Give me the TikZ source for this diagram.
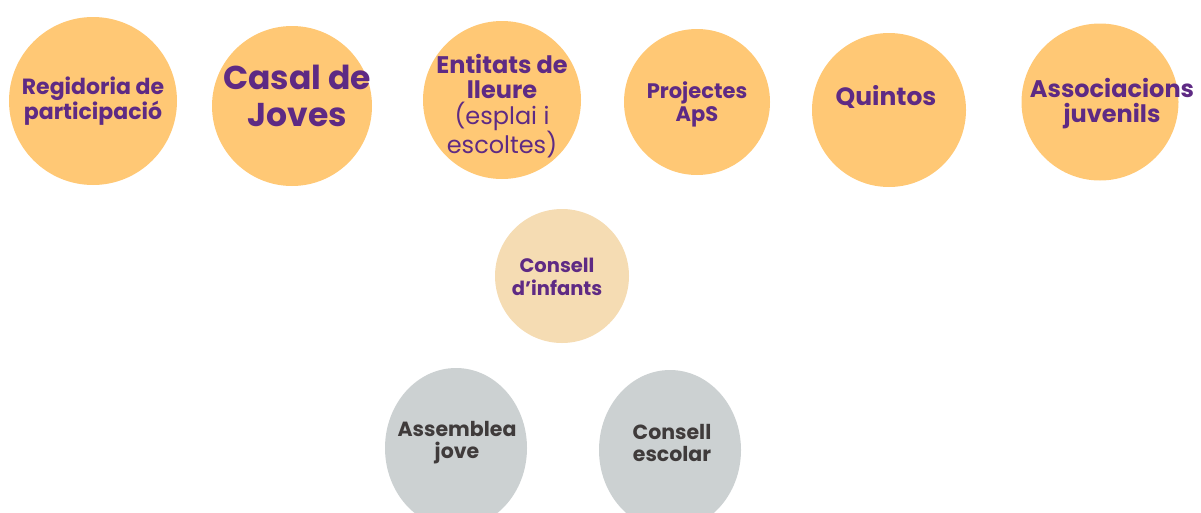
\documentclass[tikz,border=0pt]{standalone}
\usepackage{fontspec}
\setmainfont{Poppins}
\usepackage{tikz}
\usetikzlibrary{shapes.geometric}
\definecolor{peach}{HTML}{FFC875}
\definecolor{peachlight}{HTML}{F5DCB3}
\definecolor{stone}{HTML}{CCD1D2}
\definecolor{plum}{HTML}{5E2A84}
\definecolor{ink}{HTML}{3F3B3B}

\begin{document}
\begin{tikzpicture}[x=1pt, y=-1pt,
  blob/.style={circle, fill=peach, inner sep=0pt, minimum size=#1},
  blob/.default=160pt,
  stoneblob/.style={ellipse, fill=stone, inner sep=0pt,
                    minimum width=142pt, minimum height=160pt},
  lbl/.style={align=center, text=plum, inner sep=0pt, font=\bfseries},
  grey/.style={lbl, text=ink}
]
  \clip (0,0) rectangle (1201,512);

  % top row
  \node[blob=168pt] (regidoria) at (93,101)  {};
  \node[blob=160pt] (casal)     at (292,106) {};
  \node[blob=158pt] (entitats)  at (502,100) {};
  \node[blob=146pt] (aps)       at (697,102) {};
  \node[blob=154pt] (quintos)   at (889,110) {};
  \node[blob=157pt] (assoc)     at (1100,102) {};

  % middle and bottom
  \node[blob=134pt, fill=peachlight] (infants) at (562,276) {};
  \node[stoneblob] (assemb)  at (456,448) {};
  \node[stoneblob] (escolar) at (670,450) {};

  % labels
  \node[lbl, font=\fontsize{22}{24}\selectfont\bfseries] (regidoria-t) at (93,101)
    {Regidoria de\\participació};
  \node[lbl, font=\fontsize{33}{37}\selectfont\bfseries] (casal-t) at (297,96)
    {Casal de\\Joves};
  \node[lbl, font=\fontsize{24}{25.5}\selectfont] (entitats-t) at (502,106)
    {\textbf{Entitats de}\\\textbf{lleure}\\(esplai i\\escoltes)};
  \node[lbl, font=\fontsize{21}{23}\selectfont\bfseries] (aps-t) at (697,104)
    {Projectes\\ApS};
  \node[lbl, font=\fontsize{25}{25}\selectfont\bfseries] (quintos-t) at (886,97)
    {Quintos};
  \node[lbl, font=\fontsize{24}{25}\selectfont\bfseries] (assoc-t) at (1112,104)
    {Associacions\\juvenils};
  \node[lbl, font=\fontsize{19.5}{23}\selectfont\bfseries] (infants-t) at (557,277)
    {Consell\\d’infants};
  \node[grey, font=\fontsize{20.5}{22}\selectfont\bfseries] (assemb-t) at (457,443)
    {Assemblea\\jove};
  \node[grey, font=\fontsize{20.5}{22}\selectfont\bfseries] (escolar-t) at (672,443)
    {Consell\\escolar};
\end{tikzpicture}
\end{document}
